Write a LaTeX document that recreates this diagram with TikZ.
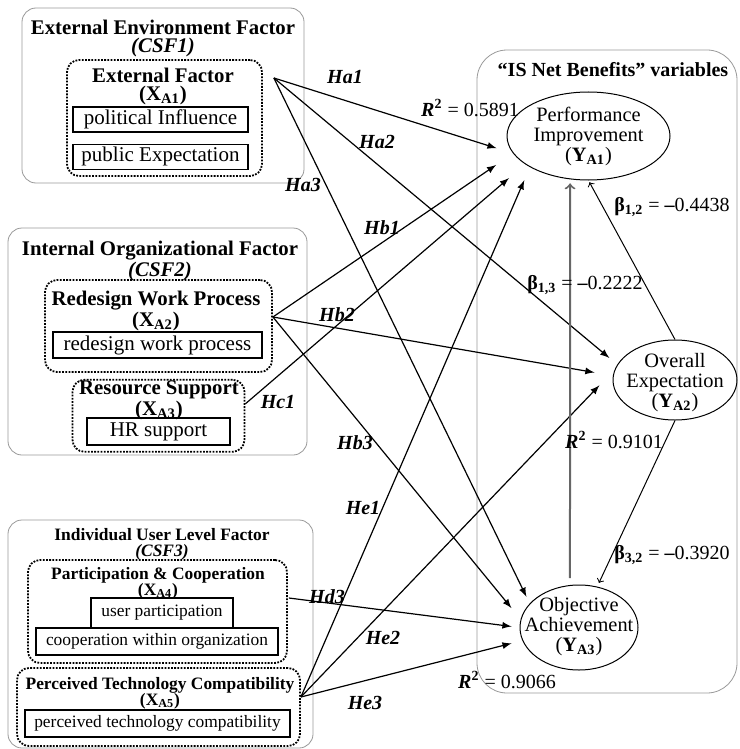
\documentclass[tikz,border=0pt]{standalone}
\usepackage{fontspec}
\setmainfont{Liberation Serif}
\usepackage{tikz}
\usetikzlibrary{calc}
\usetikzlibrary{shapes.geometric, arrows}
\tikzstyle{group} = [rectangle, rounded corners=7pt, 
draw=black!40, 
line width=0.4pt, 
inner sep=0pt]
\tikzstyle{construct} = [rectangle, rounded corners=6pt, 
draw=black, 
line width=0.9pt, 
dash pattern=on 0.9pt off 0.7pt, 
inner sep=0pt]
\tikzstyle{indicator} = [rectangle, 
draw=black, 
line width=0.6pt, 
inner sep=0pt, 
font=\fontsize{10.5}{10.5}\selectfont]
\tikzstyle{smallindicator} = [indicator, 
font=\fontsize{8.7}{8.7}\selectfont]
\tikzstyle{grouphead} = [align=center, inner sep=0pt, 
font=\bfseries\fontsize{10.4}{9}\selectfont]
\tikzstyle{smallhead} = [align=center, inner sep=0pt, 
font=\bfseries\fontsize{8.7}{8}\selectfont]
\tikzstyle{outcome} = [ellipse, draw=black, line width=0.5pt, inner sep=0pt]
\tikzstyle{outtext} = [align=center, inner sep=0pt, 
font=\fontsize{10.2}{10}\selectfont]
\tikzstyle{hyp} = [inner sep=0pt, font=\bfseries\itshape\fontsize{10}{10}\selectfont]
\tikzstyle{coef} = [inner sep=0pt, font=\fontsize{10}{10}\selectfont]
\tikzstyle{arrow} = [line width=0.6pt,->,>=latex]
\tikzstyle{effect} = [line width=0.5pt,->,>=to]
\tikzstyle{feedback} = [effect, draw=black!60, line width=1pt]

\begin{document}
\begin{tikzpicture}[x=0.5pt, y=-0.5pt]
			\useasboundingbox (0,0) rectangle (739,749);
			
			% CSF1
			\node (csfOne)[group, minimum width=141pt, minimum height=87.5pt] at (163,95.5) {};
			\node (envTitle)[grouphead] at (163,38) {External Environment Factor\\\textit{(CSF1)}};
			\node (extFac)[construct, minimum width=97.5pt, minimum height=58pt] at (164.5,118) {};
			\node (extTitle)[grouphead] at (163,86) {External Factor\\(X\textsubscript{A1})};
			\node (polInf)[indicator, minimum width=87.5pt, minimum height=12.5pt] at (160.5,119.5) {political Influence};
			\node (pubExp)[indicator, minimum width=87.5pt, minimum height=12.5pt, below=5.5pt] at (polInf.south) {public Expectation};
			
			% CSF2
			\node (csfTwo)[group, minimum width=149.5pt, minimum height=113.5pt] at (157.5,341.5) {};
			\node (orgTitle)[grouphead] at (160,261) {Internal Organizational Factor\\\textit{(CSF2)}};
			\node (redesign)[construct, minimum width=113.5pt, minimum height=46pt] at (158.5,326) {};
			\node (redTitle)[grouphead] at (156,311) {Redesign Work Process\\(X\textsubscript{A2})};
			\node (redWork)[indicator, minimum width=104.5pt, minimum height=13pt] at (157.5,345) {redesign work process};
			\node (resource)[construct, minimum width=86pt, minimum height=36pt, below=3pt] at (redesign.south) {};
			\node (resTitle)[grouphead, font=\bfseries\fontsize{10.4}{7.5}\selectfont] at (159,400.5) {Resource Support\\(X\textsubscript{A3})};
			\node (hrSup)[indicator, minimum width=71.5pt, minimum height=13.5pt] at (158.5,431.5) {HR support};
			
			% CSF3
			\node (csfThree)[group, minimum width=152.5pt, minimum height=114pt] at (160.5,634) {};
			\node (userTitle)[smallhead] at (162,544) {Individual User Level Factor\\\textit{(CSF3)}};
			\node (partCoop)[construct, minimum width=129.5pt, minimum height=51.5pt] at (157.5,611.5) {};
			\node (partTitle)[smallhead] at (158,583) {Participation \& Cooperation\\(X\textsubscript{A4})};
			\node (userPart)[smallindicator, minimum width=71pt, minimum height=15pt] at (162,613) {user participation};
			\node (coopOrg)[smallindicator, minimum width=121pt, minimum height=13.5pt] at (157,641.5) {cooperation within organization};
			\node (perceived)[construct, minimum width=141.5pt, minimum height=39pt] at (158.5,707) {};
			\node (percTitle)[smallhead] at (160,693) {Perceived Technology Compatibility\\(X\textsubscript{A5})};
			\node (perTech)[smallindicator, minimum width=132.5pt, minimum height=13.5pt] at (157.5,723.5) {perceived technology compatibility};
			
			% IS net benefits
			\node (netBen)[group, rounded corners=15pt, minimum width=130pt, minimum height=321.5pt] at (607,371.5) {};
			\node (netTitle)[grouphead, font=\bfseries\fontsize{10}{9}\selectfont] at (613,70) {“IS Net Benefits” variables};
			\node (perfImp)[outcome, minimum width=81.5pt, minimum height=44pt] at (588.5,136) {};
			\node (perfText)[outtext] at (588.5,136) {Performance\\Improvement\\(\textbf{Y\textsubscript{A1}})};
			\node (overExp)[outcome, minimum width=62pt, minimum height=40pt] at (675,380) {};
			\node (overText)[outtext] at (675,383) {Overall\\Expectation\\(\textbf{Y\textsubscript{A2}})};
			\node (objAch)[outcome, minimum width=59pt, minimum height=42.5pt] at (579,627.5) {};
			\node (objText)[outtext] at (579,627) {Objective\\Achievement\\(\textbf{Y\textsubscript{A3}})};
			
			\coordinate (fromA1) at ([shift={(5.5pt,20pt)}]extFac.east);
			\coordinate (fromA2) at ([yshift=4.5pt]redesign.east);
			\coordinate (fromA3) at ([yshift=6pt]resource.east);
			\coordinate (fromA4) at ([shift={(0.5pt,6.75pt)}]partCoop.east);
			\coordinate (fromA5) at ([yshift=5pt]perceived.east);
			
			\draw [arrow, shorten >=8.6pt] (fromA1) -- (perfImp.193);
			\draw [arrow, shorten >=5.1pt] (fromA1) -- (overExp.165);
			\draw [arrow, shorten >=3.7pt] (fromA1) -- (objAch.154);
			\draw [arrow, shorten >=10.2pt] (fromA2) -- (perfImp.193);
			\draw [arrow, shorten >=9.3pt] (fromA2) -- (overExp.176.5);
			\draw [arrow, shorten >=7.2pt] (fromA2) -- (objAch.172);
			\draw [arrow, shorten >=10.6pt] (fromA3) -- (perfImp.204);
			\draw [arrow, shorten >=4pt] (fromA4) -- (objAch.180);
			\draw [arrow, shorten >=7.1pt] (fromA5) -- (perfImp.208);
			\draw [arrow, shorten >=11pt] (fromA5) -- (overExp.170);
			\draw [arrow, shorten >=5.5pt] (fromA5) -- (objAch.193);
			
			\draw [effect, shorten >=1pt] (overExp.north) -- (perfImp.south);
			\draw [effect, shorten >=2pt] (overExp.south) -- (objAch.66);
			\draw [feedback, shorten <=3.5pt, shorten >=2pt] (objAch.102) -- (perfImp.247);
			
			\node (hypA1)[hyp] at (345,77) {Ha1};
			\node (hypA2)[hyp] at (377,142) {Ha2};
			\node (hypA3)[hyp] at (303,185) {Ha3};
			\node (hypB1)[hyp] at (382,228) {Hb1};
			\node (hypB2)[hyp] at (337,315) {Hb2};
			\node (hypC1)[hyp] at (278,402) {Hc1};
			\node (hypB3)[hyp] at (355,443) {Hb3};
			\node (hypE1)[hyp] at (363,508) {He1};
			\node (hypD3)[hyp] at (327,597) {Hd3};
			\node (hypE2)[hyp] at (383,638) {He2};
			\node (hypE3)[hyp] at (365,703) {He3};
			
			\node (rPerf)[coef] at (470,108) {\textbf{\textit{R}\textsuperscript{2}} = 0.5891};
			\node (bOneTwo)[coef] at (672,207) {\textbf{β\textsubscript{1,2}} = \textbf{–}0.4438};
			\node (bOneThree)[coef] at (585,285) {\textbf{β\textsubscript{1,3}} = \textbf{–}0.2222};
			\node (rOver)[coef] at (614,440) {\textbf{\textit{R}\textsuperscript{2}} = 0.9101};
			\node (bThreeTwo)[coef] at (672,555) {\textbf{β\textsubscript{3,2}} = \textbf{–}0.3920};
			\node (rObj)[coef] at (507,680) {\textbf{\textit{R}\textsuperscript{2}} = 0.9066};
		\end{tikzpicture}
\end{document}
